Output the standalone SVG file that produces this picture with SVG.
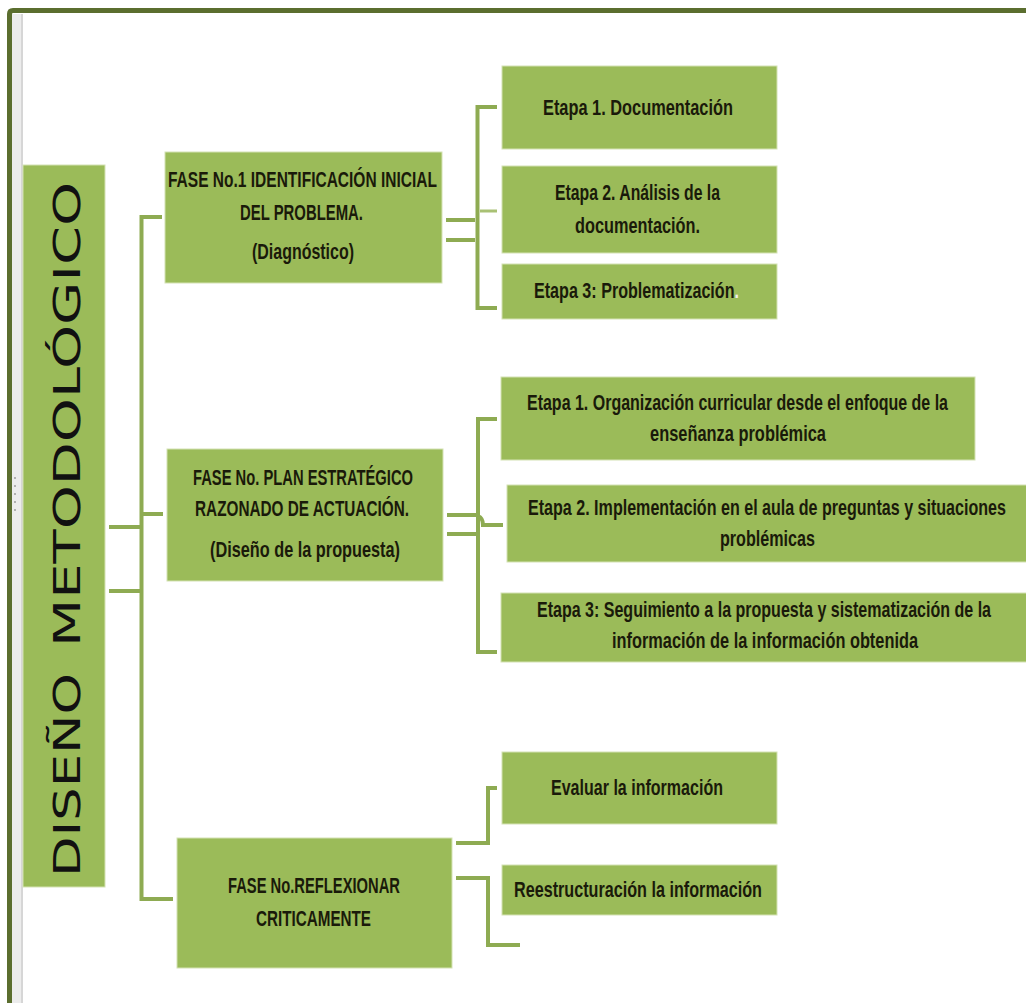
<svg xmlns="http://www.w3.org/2000/svg" width="1026" height="1003" viewBox="0 0 1026 1003">
<style>
.box{fill:#9bbb59;stroke:#d4e2b4;stroke-width:1}
.t{font-family:"Liberation Sans Narrow","Liberation Sans",Arial,sans-serif;font-weight:bold;font-size:17px;fill:#1a1a0a}
.big{font-family:"DejaVu Sans","Liberation Sans",sans-serif;font-size:38px;fill:#111}
.c{fill:none;stroke:#8eab52;stroke-width:4}
.c2{fill:none;stroke:#a9c174;stroke-width:3}
</style>
<rect x="0" y="0" width="1026" height="1003" fill="#ffffff"/>
<g id="frame">
<rect x="12" y="14" width="11" height="989" fill="#ececec"/>
<rect x="21" y="14" width="2" height="989" fill="#d6d6d6"/>
<path d="M9.5 1003 V14 Q9.5 10.5 13 10.5 H1026" fill="none" stroke="#5b6e2f" stroke-width="5"/>
<g fill="#b0b0b0"><rect x="14" y="477" width="2" height="2"/><rect x="14" y="485" width="2" height="2"/><rect x="14" y="493" width="2" height="2"/><rect x="14" y="501" width="2" height="2"/><rect x="14" y="509" width="2" height="2"/></g>
</g>
<g id="connectors">
<path class="c" d="M162 217 H141.5 V899 H173"/>
<path class="c" d="M141.5 514 H163"/>
<path class="c" d="M109 527 H143"/>
<path class="c" d="M109 591 H140"/>
<path class="c" d="M446 220 H475"/>
<path class="c" d="M446 240 H475"/>
<path class="c" d="M497 107 H477.5 V308 H497"/>
<path class="c2" d="M480 211 H497"/>
<path class="c" d="M447 515 H477"/>
<path class="c" d="M447 534 H477"/>
<path class="c" d="M497 419 H478 V652 H497"/>
<path class="c" d="M478 516 Q483 518 483 525 H503"/>
<path class="c" d="M456 843 H488 V788 H497"/>
<path class="c" d="M456 878 H488 V945 H520"/>
</g>
<g id="root">
<rect class="box" x="23" y="165" width="82" height="722"/>
<g transform="translate(80,877) rotate(-90)">
<text class="big" x="0" y="0" textLength="204" lengthAdjust="spacingAndGlyphs">DISEÑO</text>
<text class="big" x="230" y="0" textLength="465" lengthAdjust="spacingAndGlyphs">METODOLÓGICO</text>
</g>
</g>
<g id="fase1">
<rect class="box" x="165" y="152" width="277" height="131"/>
<text class="t" transform="translate(168,187) scale(1,1.35)" textLength="269" lengthAdjust="spacingAndGlyphs">FASE No.1 IDENTIFICACIÓN INICIAL</text>
<text class="t" transform="translate(240,220) scale(1,1.35)" textLength="123" lengthAdjust="spacingAndGlyphs">DEL PROBLEMA.</text>
<text class="t" transform="translate(252,259) scale(1,1.35)" textLength="102" lengthAdjust="spacingAndGlyphs">(Diagnóstico)</text>
</g>
<g id="f1e1">
<rect class="box" x="502" y="66" width="275" height="83"/>
<text class="t" transform="translate(543,115) scale(1,1.35)" textLength="190" lengthAdjust="spacingAndGlyphs">Etapa 1. Documentación</text>
</g>
<g id="f1e2">
<rect class="box" x="502" y="166" width="275" height="87"/>
<text class="t" transform="translate(555,200) scale(1,1.35)" textLength="165" lengthAdjust="spacingAndGlyphs">Etapa 2. Análisis de la</text>
<text class="t" transform="translate(575,233) scale(1,1.35)" textLength="125" lengthAdjust="spacingAndGlyphs">documentación.</text>
</g>
<g id="f1e3">
<rect class="box" x="502" y="264" width="275" height="55"/>
<text class="t" transform="translate(534,298) scale(1,1.35)" textLength="205" lengthAdjust="spacingAndGlyphs">Etapa 3: Problematización<tspan fill="#f0f0f0">.</tspan></text>
</g>
<g id="fase2">
<rect class="box" x="167" y="449" width="276" height="132"/>
<text class="t" transform="translate(193,485) scale(1,1.35)" textLength="220" lengthAdjust="spacingAndGlyphs">FASE No. PLAN ESTRATÉGICO</text>
<text class="t" transform="translate(195,516) scale(1,1.35)" textLength="214" lengthAdjust="spacingAndGlyphs">RAZONADO DE ACTUACIÓN.</text>
<text class="t" transform="translate(210,557) scale(1,1.35)" textLength="190" lengthAdjust="spacingAndGlyphs">(Diseño de la propuesta)</text>
</g>
<g id="f2e1">
<rect class="box" x="501" y="377" width="474" height="83"/>
<text class="t" transform="translate(527,410) scale(1,1.35)" textLength="421" lengthAdjust="spacingAndGlyphs">Etapa 1. Organización curricular desde el enfoque de la</text>
<text class="t" transform="translate(650,441) scale(1,1.35)" textLength="176" lengthAdjust="spacingAndGlyphs">enseñanza problémica</text>
</g>
<g id="f2e2">
<rect class="box" x="507" y="485" width="525" height="77"/>
<text class="t" transform="translate(528,515) scale(1,1.35)" textLength="478" lengthAdjust="spacingAndGlyphs">Etapa 2. Implementación en el aula de preguntas y situaciones</text>
<text class="t" transform="translate(720,546) scale(1,1.35)" textLength="95" lengthAdjust="spacingAndGlyphs">problémicas</text>
</g>
<g id="f2e3">
<rect class="box" x="501" y="593" width="531" height="69"/>
<text class="t" transform="translate(537,617) scale(1,1.35)" textLength="454" lengthAdjust="spacingAndGlyphs">Etapa 3: Seguimiento a la propuesta y sistematización de la</text>
<text class="t" transform="translate(612,648) scale(1,1.35)" textLength="306" lengthAdjust="spacingAndGlyphs">información de la información obtenida</text>
</g>
<g id="fase3">
<rect class="box" x="177" y="838" width="275" height="130"/>
<text class="t" transform="translate(228,893) scale(1,1.35)" textLength="172" lengthAdjust="spacingAndGlyphs">FASE No.REFLEXIONAR</text>
<text class="t" transform="translate(256,926) scale(1,1.35)" textLength="115" lengthAdjust="spacingAndGlyphs">CRITICAMENTE</text>
</g>
<g id="f3e1">
<rect class="box" x="502" y="752" width="275" height="72"/>
<text class="t" transform="translate(551,795) scale(1,1.35)" textLength="172" lengthAdjust="spacingAndGlyphs">Evaluar la información</text>
</g>
<g id="f3e2">
<rect class="box" x="502" y="865" width="275" height="50"/>
<text class="t" transform="translate(514,897) scale(1,1.35)" textLength="248" lengthAdjust="spacingAndGlyphs">Reestructuración la información</text>
</g>
</svg>
